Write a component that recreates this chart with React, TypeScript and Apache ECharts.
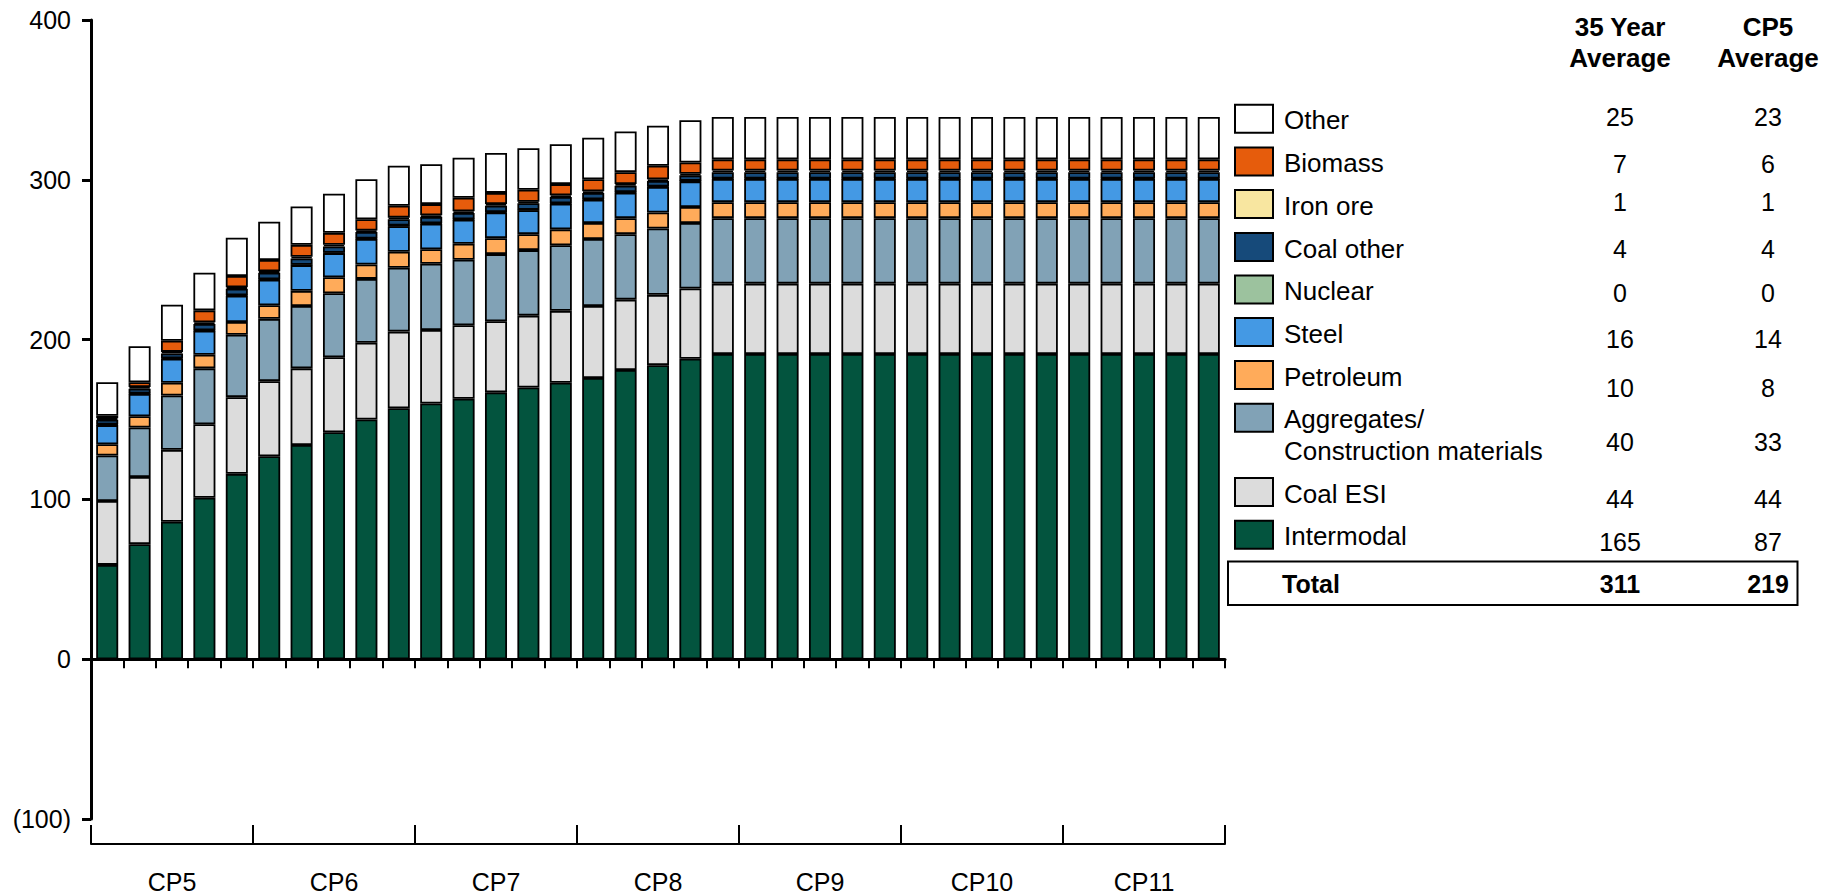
import React, { useEffect, useRef } from "react";
import * as echarts from "echarts";

// ---------- DATA ----------
const categories = Array.from({ length: 35 }, (_, i) => `${2014 + i}/${String((15 + i) % 100).padStart(2, "0")}`);
const periods = ["CP5", "CP6", "CP7", "CP8", "CP9", "CP10", "CP11"];
const yTicks = [-100, 0, 100, 200, 300, 400];

const rep = (v: number, n: number) => Array(n).fill(v);

const intermodal = [59, 72, 86, 101, 116, 127, 134, 142, 150, 157, 160, 163, 167, 170, 173, 176, 181, 184, 188, ...rep(191, 16)];
const coalESI = [40, 42, 45, 46, 48, 47, 48, 47, 48, 48, 46, 46, 44.5, 45, 45, 45, 44, 44, 44, ...rep(44, 16)];
const aggregates = [28.5, 31, 34, 35, 39, 39, 39, 40, 40, 40, 41.5, 41, 42, 41, 41, 42, 41, 41.5, 41, ...rep(41, 16)];
const petroleum = [7, 7, 8, 8.5, 8, 8.5, 9.5, 10, 9, 10, 9, 10, 10, 10, 10, 10, 10, 10, 10, ...rep(10, 16)];
const steel = [12, 14, 15, 15, 16.5, 16, 16, 15, 16, 16, 16, 15, 16, 15, 16, 14.5, 16, 16, 16, ...rep(14.5, 16)];
const nuclear = rep(0.3, 35);
const coalOther = [3, 3, 3, 4, 4, 4, 4, 4, 4, 4, 4, 4, 4, 4, 4, 4, 4, 3.5, 3.5, ...rep(4, 16)];
const ironOre = rep(1, 35);
const biomass = [1.5, 3, 7, 7.5, 7, 7, 7.5, 7.5, 7, 7.5, 7, 8.5, 7, 7.5, 7, 7.5, 7.5, 8.5, 7, ...rep(7, 16)];
const other = [21, 22.5, 22.5, 23.5, 24, 24, 24, 24.5, 25, 25, 25, 25, 25, 26, 25, 26, 25.5, 25, 26.5, ...rep(26.5, 16)];

// bottom -> top stacking order
const seriesNames = ["Intermodal", "Coal ESI", "Aggregates/Construction materials", "Petroleum", "Steel", "Nuclear", "Coal other", "Iron ore", "Biomass", "Other"];
const seriesValues = [intermodal, coalESI, aggregates, petroleum, steel, nuclear, coalOther, ironOre, biomass, other];
const seriesColors = ["#03543e", "#dcdcdc", "#81a2b6", "#ffab5a", "#4499e4", "#9cc29e", "#164a7a", "#f8e6a0", "#e65c0c", "#ffffff"];

// table (top -> bottom)
const tableLabels = ["Other", "Biomass", "Iron ore", "Coal other", "Nuclear", "Steel", "Petroleum", "Aggregates/\nConstruction materials", "Coal ESI", "Intermodal"];
const tableColors = ["#ffffff", "#e65c0c", "#f8e6a0", "#164a7a", "#9cc29e", "#4499e4", "#ffab5a", "#81a2b6", "#dcdcdc", "#03543e"];
const avg35 = [25, 7, 1, 4, 0, 16, 10, 40, 44, 165];
const avgCP5 = [23, 6, 1, 4, 0, 14, 8, 33, 44, 87];
const headers = ["35 Year\nAverage", "CP5\nAverage"];
const totalLabel = "Total";
const totals = [311, 219];

// ---------- LAYOUT ----------
const FONT = "'Liberation Sans', Arial, sans-serif";
const swatchTop = [104.8, 147.5, 190, 233, 275.6, 318, 361, 403.7, 478, 520.8];
const valueY = [116.6, 164, 201.7, 249, 292.6, 339, 387.5, 442, 499, 541.7];
const colX = [1620, 1768];

export default function App() {
  const ref = useRef<HTMLDivElement>(null);
  useEffect(() => {
    if (!ref.current) return;
    const chart = echarts.init(ref.current, undefined, { renderer: "svg" });

    const graphic: any[] = [];
    headers.forEach((h, i) => {
      graphic.push({
        type: "text",
        x: colX[i],
        y: 11,
        style: { text: h, fill: "#000", font: `bold 26px ${FONT}`, align: "center", verticalAlign: "top", lineHeight: 31.5 },
      });
    });
    tableLabels.forEach((lab, i) => {
      const top = swatchTop[i];
      graphic.push({
        type: "rect",
        shape: { x: 1235, y: top, width: 38, height: 28 },
        style: { fill: tableColors[i], stroke: "#000", lineWidth: 2 },
      });
      const multi = lab.includes("\n");
      graphic.push({
        type: "text",
        x: 1284,
        y: top + 15.5 + (multi ? 15.75 : 0),
        style: { text: lab, fill: "#000", font: `26px ${FONT}`, align: "left", verticalAlign: "middle", lineHeight: 31.5 },
      });
      [avg35[i], avgCP5[i]].forEach((v, j) => {
        graphic.push({
          type: "text",
          x: colX[j],
          y: valueY[i],
          style: { text: String(v), fill: "#000", font: `25px ${FONT}`, align: "center", verticalAlign: "middle" },
        });
      });
    });
    graphic.push({
      type: "rect",
      shape: { x: 1228, y: 561.5, width: 569.5, height: 43.5 },
      style: { fill: "none", stroke: "#000", lineWidth: 2 },
    });
    graphic.push({
      type: "text",
      x: 1282,
      y: 584,
      style: { text: totalLabel, fill: "#000", font: `bold 25px ${FONT}`, align: "left", verticalAlign: "middle" },
    });
    totals.forEach((t, j) => {
      graphic.push({
        type: "text",
        x: colX[j],
        y: 584,
        style: { text: String(t), fill: "#000", font: `bold 25px ${FONT}`, align: "center", verticalAlign: "middle" },
      });
    });

    chart.setOption({
      animation: false,
      backgroundColor: "#fff",
      textStyle: { fontFamily: FONT },
      grid: { left: 91, top: 20, width: 1134, height: 800, containLabel: false },
      xAxis: [
        {
          type: "category",
          data: categories,
          axisLine: { onZero: true, lineStyle: { color: "#000", width: 3 } },
          axisTick: { show: true, interval: 0, length: 9, lineStyle: { color: "#000", width: 2 } },
          axisLabel: { show: false },
          splitLine: { show: false },
        },
        {
          type: "category",
          data: periods,
          position: "bottom",
          offset: 25,
          axisLine: { onZero: false, lineStyle: { color: "#000", width: 2 } },
          axisTick: { show: true, inside: true, interval: 0, length: 19, lineStyle: { color: "#000", width: 2 } },
          axisLabel: { show: true, interval: 0, color: "#000", fontSize: 25, fontFamily: FONT, margin: 25 },
          splitLine: { show: false },
        },
      ],
      yAxis: {
        type: "value",
        min: -100,
        max: 400,
        interval: 100,
        axisLine: { show: true, lineStyle: { color: "#000", width: 3 } },
        axisTick: { show: true, length: 9, lineStyle: { color: "#000", width: 3 } },
        splitLine: { show: false },
        axisLabel: {
          color: "#000",
          fontSize: 25,
          fontFamily: FONT,
          margin: 20,
          formatter: (v: number) => (yTicks.includes(v) ? (v < 0 ? `(${-v})` : `${v}`) : ""),
        },
      },
      series: seriesNames.map((name, i) => ({
        name,
        type: "bar",
        stack: "total",
        xAxisIndex: 0,
        barWidth: "68%",
        data: seriesValues[i],
        itemStyle: { color: seriesColors[i], borderColor: "#000", borderWidth: 1.8 },
        emphasis: { disabled: true },
      })),
      graphic,
    });
    return () => chart.dispose();
  }, []);
  return <div ref={ref} style={{ position: "absolute", left: 0, top: 0, width: 1838, height: 894 }} />;
}
